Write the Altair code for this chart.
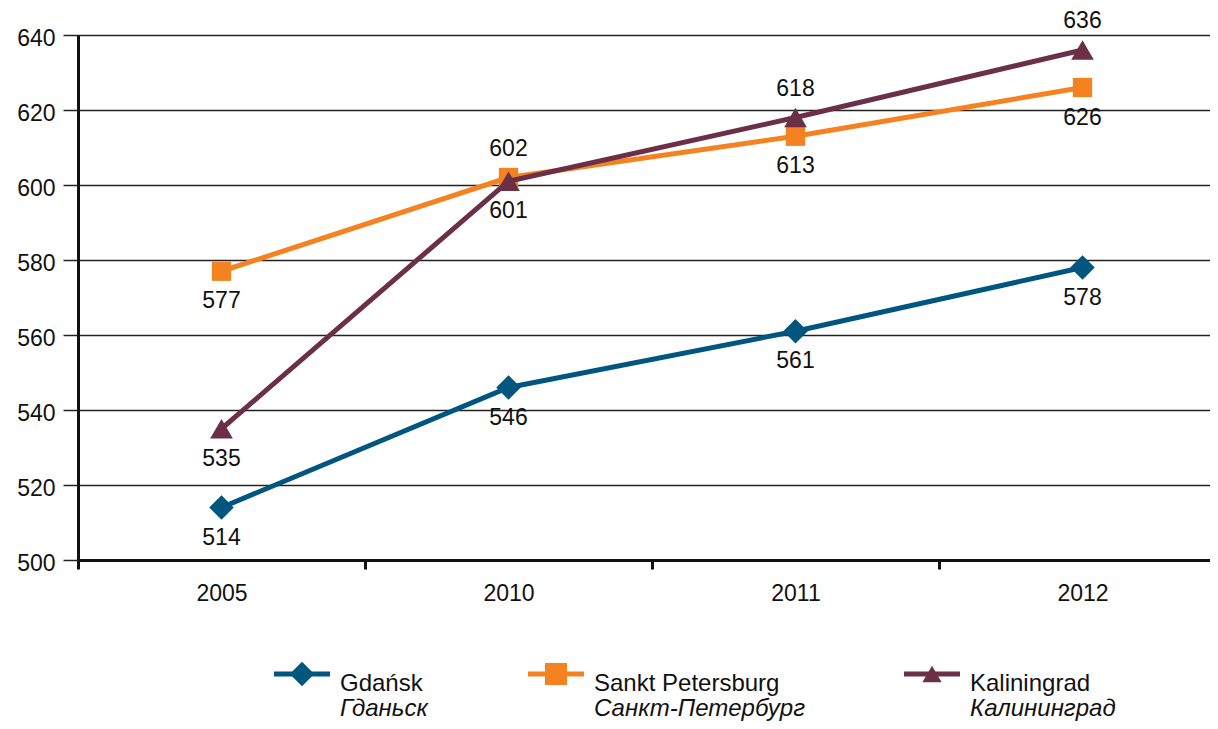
import altair as alt
import pandas as pd

FONT = "Liberation Sans"

years = ["2005", "2010", "2011", "2012"]
cities = ["Gdańsk", "Sankt Petersburg", "Kaliningrad"]
cities_ru = ["Гданьск", "Санкт-Петербург", "Калининград"]

gdansk = [514, 546, 561, 578]
spb = [577, 602, 613, 626]
kaliningrad = [535, 601, 618, 636]

# where each value label sits relative to its point
side_gdansk = ["below", "below", "below", "below"]
side_spb = ["below", "above", "below", "below"]
side_kaliningrad = ["below", "below", "above", "above"]

colors = ["#00567f", "#f58220", "#6b3048"]
shapes = ["diamond", "square", "triangle-up"]
marker_sizes = [600, 372, 515]

rows = []
for city, vals, sides in [
    (cities[0], gdansk, side_gdansk),
    (cities[1], spb, side_spb),
    (cities[2], kaliningrad, side_kaliningrad),
]:
    for y, v, s in zip(years, vals, sides):
        rows.append({"year": y, "city": city, "value": v, "side": s})
df = pd.DataFrame(rows)

PLOT_W = 1132  # visible part of the plot (page width limits it)
PLOT_H = 525

base = alt.Chart(df).encode(
    x=alt.X(
        "year:N",
        sort=years,
        scale=alt.Scale(paddingInner=0, paddingOuter=0, range=[0, 1148]),
        axis=alt.Axis(
            title=None,
            labelAngle=0,
            tickBand="extent",
            domainColor="#111111",
            domainWidth=3,
            tickColor="#111111",
            tickWidth=3,
            tickSize=9,
            labelFontSize=23,
            labelFont=FONT,
            labelColor="#111111",
            labelPadding=13,
            grid=False,
        ),
    ),
    y=alt.Y(
        "value:Q",
        scale=alt.Scale(domain=[500, 640], nice=False, zero=False),
        axis=alt.Axis(
            title=None,
            values=[500, 520, 540, 560, 580, 600, 620, 640],
            grid=True,
            gridColor="#222222",
            gridWidth=1.5,
            domainColor="#111111",
            domainWidth=3,
            tickColor="#222222",
            tickWidth=1.5,
            tickSize=15,
            labelFontSize=23,
            labelFont=FONT,
            labelColor="#111111",
            labelPadding=8,
            labelOffset=3,
        ),
    ),
)

layers = []
for i, c in enumerate(cities):
    sub = base.transform_filter(alt.datum.city == c)
    layers.append(sub.mark_line(strokeWidth=5, color=colors[i]))
    layers.append(
        sub.mark_point(
            shape=shapes[i], size=marker_sizes[i], filled=True, opacity=1, color=colors[i]
        )
    )

text_below = base.transform_filter(alt.datum.side == "below").mark_text(
    dy=30, fontSize=23, font=FONT, color="#111111"
).encode(text="value:Q")
text_above = base.transform_filter(alt.datum.side == "above").mark_text(
    dy=-29, fontSize=23, font=FONT, color="#111111"
).encode(text="value:Q")

main = alt.layer(*layers, text_below, text_above)

# custom legend below the plot (two rows: English name, Russian name in italics)
leg_df = pd.DataFrame({"city": cities, "ru": cities_ru, "item": [0, 1, 2]})
lx = alt.X(
    "item:Q",
    scale=alt.Scale(domain=[0, 1, 2], range=[224, 478, 854]),
    axis=None,
)
lrow_scale = alt.Scale(domain=[0, 1], range=[639, 674])
ly0 = alt.Y(datum=0, type="quantitative", scale=lrow_scale, axis=None)
ly1 = alt.Y(datum=1, type="quantitative", scale=lrow_scale, axis=None)
lcolor = alt.Color("city:N", scale=alt.Scale(domain=cities, range=colors), legend=None)
leg_base = alt.Chart(leg_df)

leg_line = leg_base.mark_point(
    shape="M-1,-0.09L1,-0.09L1,0.09L-1,0.09Z", size=3136, filled=True, opacity=1
).encode(x=lx, y=ly0, color=lcolor)
leg_marker = leg_base.mark_point(filled=True, opacity=1).encode(
    x=lx,
    y=ly0,
    color=lcolor,
    shape=alt.Shape("city:N", scale=alt.Scale(domain=cities, range=shapes), legend=None),
    size=alt.Size("city:N", scale=alt.Scale(domain=cities, range=marker_sizes), legend=None),
)
leg_en = leg_base.mark_text(
    align="left", dx=38, dy=10, fontSize=24, font=FONT, color="#111111"
).encode(x=lx, y=ly0, text="city:N")
leg_ru = leg_base.mark_text(
    align="left", dx=38, dy=0, fontSize=24, font=FONT, fontStyle="italic", color="#111111"
).encode(x=lx, y=ly1, text="ru:N")

legend = alt.layer(leg_line, leg_marker, leg_en, leg_ru)

chart = (
    alt.layer(main, legend)
    .resolve_scale(x="independent", y="independent")
    .properties(
        width=PLOT_W,
        height=PLOT_H,
        autosize=alt.AutoSizeParams(type="none"),
        padding={"left": 70, "top": 27, "right": 0, "bottom": 161},
        background="white",
    )
    .configure_view(stroke="transparent", strokeWidth=0)
)

chart.save("out.html", embed_options={"renderer": "svg", "actions": False})
